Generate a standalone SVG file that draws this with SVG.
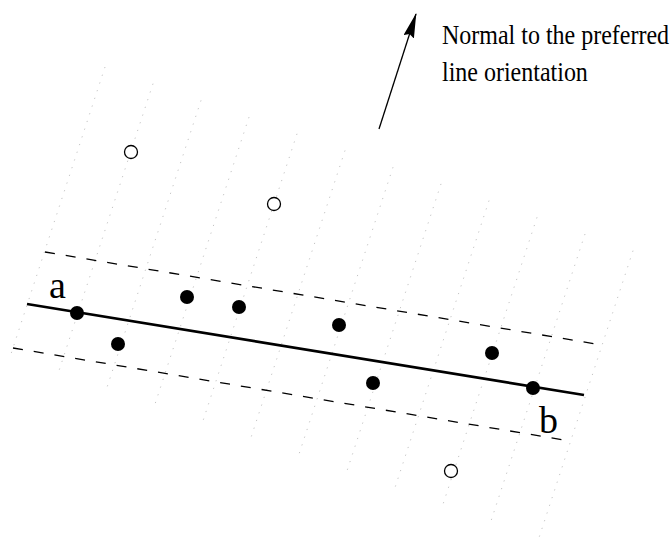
<svg xmlns="http://www.w3.org/2000/svg" width="670" height="543" viewBox="0 0 670 543">
<style>
.grid line{stroke:#c4c4c4;stroke-width:1;stroke-dasharray:1.2 6.9;fill:none}
.dash{stroke:#000;stroke-width:1.3;stroke-dasharray:10 11;fill:none}
.main{stroke:#000;stroke-width:2.6;fill:none}
.in{fill:#000}
.out{fill:#fff;stroke:#000;stroke-width:1.3}
.lbl{font-family:"Liberation Serif","Times New Roman",serif;fill:#000}
</style>
<defs>
<marker id="ah" markerUnits="userSpaceOnUse" viewBox="0 0 25 11" refX="24" refY="5.5" markerWidth="25" markerHeight="11" orient="auto">
<path d="M0,0 L25,5.5 L0,11 L3,5.5 z" fill="#000"/>
</marker>
</defs>
<rect width="670" height="543" fill="#fff"/>
<g class="grid" id="grid">
<line x1="105" y1="67" x2="11" y2="354"/>
<line x1="153" y1="83.7" x2="59" y2="370.7"/>
<line x1="201" y1="100.4" x2="107" y2="387.4"/>
<line x1="249" y1="117.1" x2="155" y2="404.1"/>
<line x1="297" y1="133.8" x2="203" y2="420.8"/>
<line x1="345" y1="150.5" x2="251" y2="437.5"/>
<line x1="393" y1="167.2" x2="299" y2="454.2"/>
<line x1="441" y1="183.9" x2="347" y2="470.9"/>
<line x1="489" y1="200.6" x2="395" y2="487.6"/>
<line x1="537" y1="217.3" x2="443" y2="504.3"/>
<line x1="585" y1="234" x2="491" y2="521"/>
<line x1="633" y1="250.7" x2="539" y2="537.7"/>
</g>
<g id="connectors">
<line class="dash" x1="45" y1="252" x2="602" y2="345"/>
<line class="dash" x1="13" y1="348" x2="570" y2="441"/>
<line class="main" x1="27" y1="304" x2="584" y2="395"/>
<line id="normal-arrow" x1="379" y1="129" x2="416" y2="14" stroke="#000" stroke-width="1.3" marker-end="url(#ah)"/>
</g>
<g id="p-a"><circle class="in" cx="77" cy="313" r="7"/></g>
<g id="p2"><circle class="in" cx="118" cy="344" r="7"/></g>
<g id="p3"><circle class="in" cx="187" cy="297" r="7"/></g>
<g id="p4"><circle class="in" cx="239" cy="307" r="7"/></g>
<g id="p5"><circle class="in" cx="339" cy="325" r="7"/></g>
<g id="p6"><circle class="in" cx="373" cy="383" r="7"/></g>
<g id="p7"><circle class="in" cx="492" cy="353" r="7"/></g>
<g id="p-b"><circle class="in" cx="533" cy="388" r="7"/></g>
<g id="o1"><circle class="out" cx="131" cy="152" r="6.5"/></g>
<g id="o2"><circle class="out" cx="274" cy="204" r="6.5"/></g>
<g id="o3"><circle class="out" cx="451" cy="471" r="6.5"/></g>
<g id="label-a"><text class="lbl" x="49" y="298" font-size="38">a</text></g>
<g id="label-b"><text class="lbl" x="539" y="433" font-size="38">b</text></g>
<g id="label-normal">
<text class="lbl" transform="translate(442,43.5) scale(1,1.14)" font-size="24">Normal to the preferred</text>
<text class="lbl" transform="translate(442,80.8) scale(1,1.14)" font-size="24">line orientation</text>
</g>
</svg>
